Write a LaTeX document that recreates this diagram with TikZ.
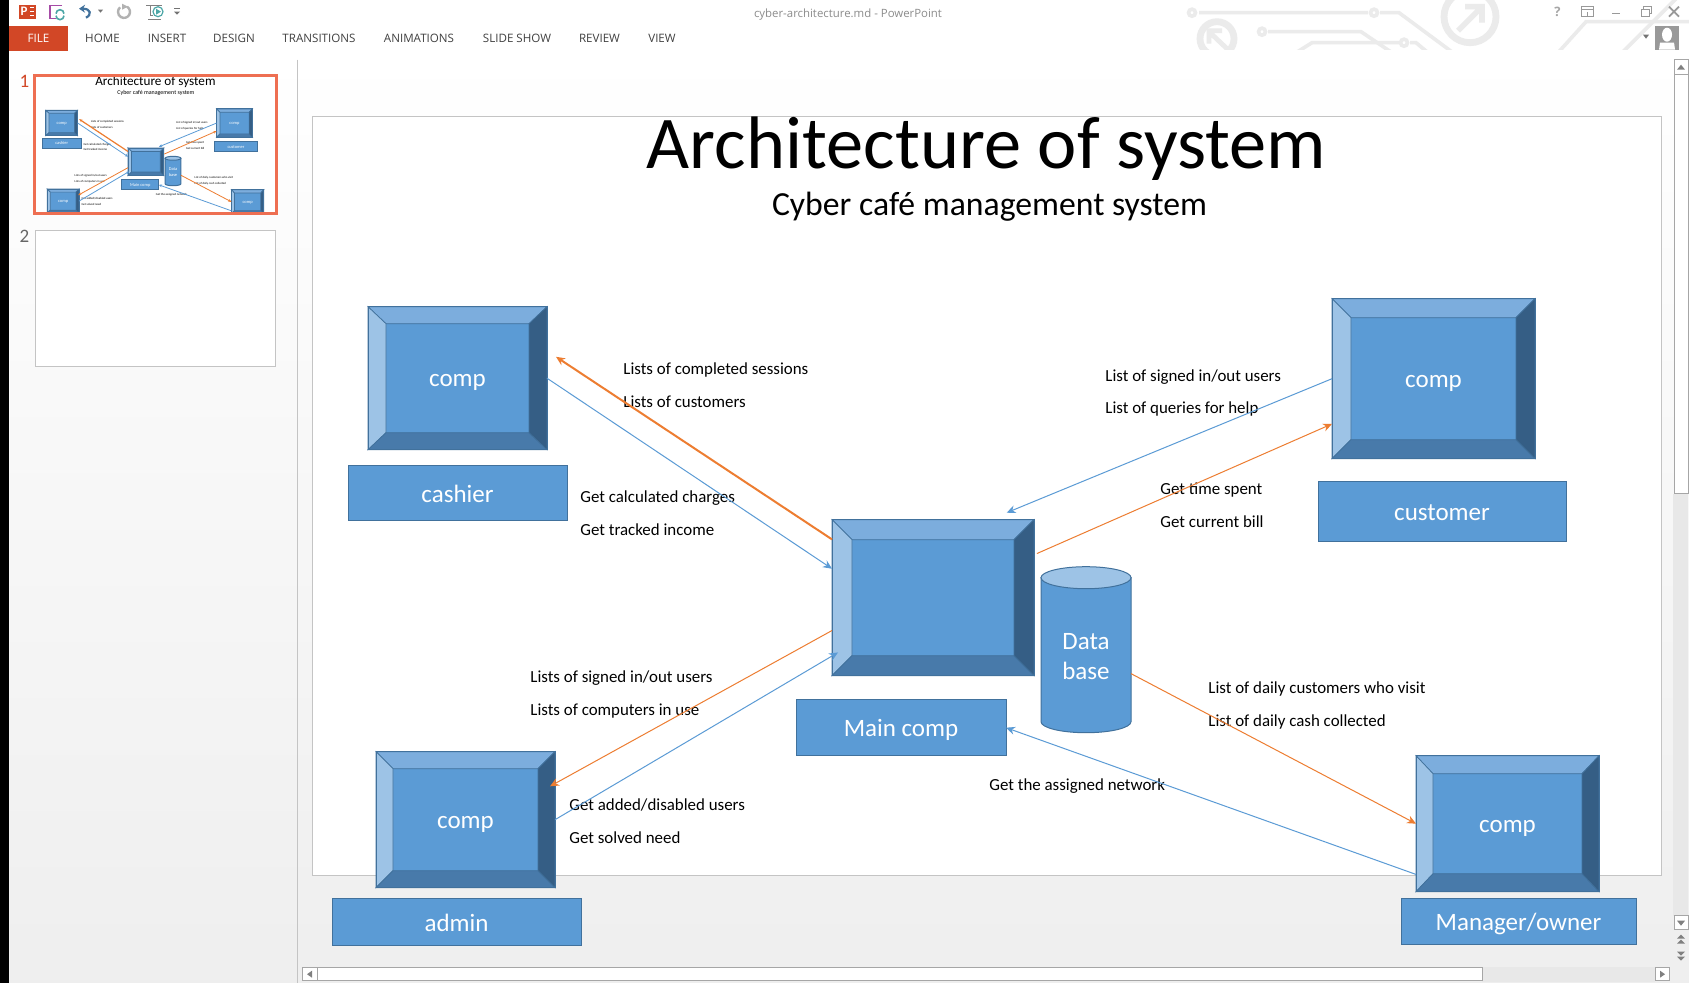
\documentclass[tikz,border=0pt]{standalone}
\usepackage{fontspec}
\setmainfont{Carlito}
\newfontfamily\uifont{Open Sans}
\usetikzlibrary{arrows.meta}
\usetikzlibrary{shapes,positioning}

\definecolor{boxblue}{HTML}{5B9BD5}
\definecolor{boxedge}{HTML}{41719C}
\definecolor{beveltop}{HTML}{7CADDD}
\definecolor{bevelleft}{HTML}{9DC3E6}
\definecolor{bevelbottom}{HTML}{487AAA}
\definecolor{bevelright}{HTML}{355E85}
\definecolor{linkorange}{HTML}{ED7D31}
\definecolor{filered}{HTML}{D24726}
\definecolor{framegrey}{HTML}{C4C4C4}
\definecolor{waterline}{HTML}{EBEBEB}

\tikzset{
    bevelface/.style = {draw=boxedge, line width=.35pt},
    labelbox/.style = {draw=boxedge, fill=boxblue, text=white, line width=.5pt, outer sep=0pt,
        text height=11.6pt, text depth=2.4pt, font=\fontsize{12.5}{15}\selectfont},
    compbox/.style = {inner sep=0pt, outer sep=0pt, text=white, text height=11.1pt, text depth=2.4pt,
        font=\fontsize{12.5}{15}\selectfont},
    msg/.style = {anchor=west, inner sep=0pt, text height=1.5ex, text depth=.25ex,
        font=\fontsize{8.45}{10}\selectfont},
    orangelink/.style = {draw=linkorange, -{Stealth[length=\tipl,width=\tipw]}, line width=\lwthin},
    bluelink/.style = {draw=boxblue, -{Stealth[length=\tipl,width=\tipw]}, line width=\lwthin},
    tabtext/.style = {inner sep=0pt, text=black!75, font=\uifont\fontsize{5.8}{8}\selectfont},
    wiremark/.style = {draw=waterline, line width=1.8pt},
    sbutton/.style = {draw=black!35, fill=white, line width=.5pt},
}

% name, x1, y1, x2, y2, bevel x, bevel y, text
\newcommand{\compnode}[8]{
    \pgfmathsetmacro{\cxx}{(#2+#4)/2}
    \pgfmathsetmacro{\cyy}{(#3+#5)/2}
    \pgfmathsetmacro{\ixa}{#2+#6}
    \pgfmathsetmacro{\ixb}{#4-#6}
    \pgfmathsetmacro{\iya}{#3+#7}
    \pgfmathsetmacro{\iyb}{#5-#7}
    \node[draw=boxedge, fill=boxblue, line width=.5pt, inner sep=0pt, outer sep=0pt,
        minimum width={(#4-#2)*.5pt}, minimum height={(#5-#3)*.5pt}] (#1) at (\cxx, \cyy) {};
    \path[bevelface, fill=beveltop] (#2, #3) -- (#4, #3) -- (\ixb, \iya) -- (\ixa, \iya) -- cycle;
    \path[bevelface, fill=bevelleft] (#2, #3) -- (\ixa, \iya) -- (\ixa, \iyb) -- (#2, #5) -- cycle;
    \path[bevelface, fill=bevelbottom] (#2, #5) -- (\ixa, \iyb) -- (\ixb, \iyb) -- (#4, #5) -- cycle;
    \path[bevelface, fill=bevelright] (#4, #3) -- (\ixb, \iya) -- (\ixb, \iyb) -- (#4, #5) -- cycle;
    \path[draw=boxedge, line width=.5pt] (#2, #3) rectangle (#4, #5);
    \node[compbox] (#1in) at (\cxx, \cyy) {#8};
}

% everything that sits on the slide, drawn twice
\newcommand{\slidebody}{
    \node[inner sep=0pt, font=\fontsize{37.2}{44}\selectfont] (title) at (986.5, 148) {Architecture of system};
    \node[inner sep=0pt, font=\fontsize{16.85}{20}\selectfont] (subtitle) at (989.5, 205.5) {Cyber café management system};

    \compnode{cashier}{368}{306}{547}{449}{18}{17}{comp}
    \compnode{customer}{1332}{298}{1535}{458}{19}{19}{comp}
    \compnode{maincomp}{832}{519}{1034}{675}{20}{20}{}
    \compnode{admin}{376}{751}{555}{887}{17}{17}{comp}
    \compnode{manager}{1416}{755}{1599}{891}{17}{18}{comp}

    \node[labelbox, minimum width=109.5pt, minimum height=27.5pt] (cashiertag) at (457.5, 492.5) {cashier};
    \node[labelbox, minimum width=124pt, minimum height=30pt] (customertag) at (1442, 511) {customer};
    \node[labelbox, minimum width=105pt, minimum height=28pt] (maintag) at (901, 727) {Main comp};
    \node[labelbox, minimum width=124.5pt, minimum height=23.5pt] (admintag) at (456.5, 921.5) {admin};
    \node[labelbox, minimum width=117.5pt, minimum height=23pt] (managertag) at (1518.5, 921) {Manager/owner};

    % data base
    \path[draw=boxedge, fill=boxblue, line width=.5pt] (1041, 577) -- (1041, 721)
        arc[start angle=180, end angle=0, x radius=45, y radius=11] -- (1131, 577) -- cycle;
    \path[draw=boxedge, fill=bevelleft, line width=.5pt] (1086, 577) ellipse [x radius=45, y radius=11];
    \node[inner sep=0pt, outer sep=0pt, minimum width=45pt, minimum height=83pt] (database) at (1086, 649) {};
    \node[inner sep=0pt, align=center, text=white, font=\fontsize{12.5}{15}\selectfont] (databasein) at (1086, 655.5) {Data\\base};

    \node[msg] (completedtxt) at (623, 368) {Lists of completed sessions};
    \node[msg] (customerstxt) at (623, 401) {Lists of customers};
    \node[msg] (chargestxt) at (580, 496) {Get calculated charges};
    \node[msg] (incometxt) at (580, 529) {Get tracked income};
    \node[msg] (signedtxt) at (1105, 375) {List of signed in/out users};
    \node[msg] (queriestxt) at (1105, 407) {List of queries for help};
    \node[msg] (timetxt) at (1160, 488) {Get time spent};
    \node[msg] (billtxt) at (1160, 521) {Get current bill};
    \node[msg] (signedbtxt) at (530, 676) {Lists of signed in/out users};
    \node[msg] (computerstxt) at (530, 709) {Lists of computers in use};
    \node[msg] (addedtxt) at (569, 804) {Get added/disabled users};
    \node[msg] (solvedtxt) at (569, 837) {Get solved need};
    \node[msg] (visittxt) at (1208, 687) {List of daily customers who visit};
    \node[msg] (cashtxt) at (1208, 720) {List of daily cash collected};
    \node[msg] (networktxt) at (989, 784) {Get the assigned network};

    \draw[orangelink, line width=\lwthick, shorten >={5.4pt*\zf}] (maincomp.150.6) -- (cashier.17.1);
    \draw[bluelink] (cashier.east) -- (maincomp.164.5);
    \draw[bluelink, shorten >={9.2pt*\zf}] (customer.west) -- (maincomp.54.3);
    \draw[orangelink, shorten <={1.6pt*\zf}] (maincomp.23.4) -- (customer.204.8);
    \draw[orangelink, shorten >={-2.85pt*\zf}] (maincomp.198.6) -- (admin.22.3);
    \draw[bluelink, shorten >={-3.5pt*\zf}] (admin.east) -- (maincomp.210.1);
    \draw[orangelink] (database.-28.1) -- (manager.west);
    \draw[bluelink] (manager.209.6) -- (maintag.east);
}

\begin{document}
\begin{tikzpicture}[x=.5pt, y=-.5pt]
    \useasboundingbox (0, -.7) rectangle (1689, 982.3);
    \path[top color=white, bottom color=black!6.5] (0, 50) rectangle (1689, 983);
    \fill[white] (0, -1) rectangle (1689, 50);
    \fill[black] (0, -1) rectangle (9, 983);
    \draw[framegrey, line width=.5pt] (297, 59) -- (297, 983);

    % title bar
    \begin{scope}
        \clip (1100, 0) rectangle (1689, 49);
        \path[wiremark] (1199, 12) -- (1368, 12) (1380, 12) -- (1399, 12) -- (1453, 52);
        \path[wiremark] (1192, 12) circle (3.5) (1374, 12) circle (3.5);
        \path[wiremark] (1268, 31) -- (1361, 31) -- (1392, 52);
        \path[wiremark] (1262, 31) circle (3.5);
        \path[wiremark] (1296, 52) -- (1312, 42) -- (1400, 42) (1410, 42) -- (1416, 42) -- (1428, 52);
        \path[wiremark] (1404, 42) circle (3.5);
        \path[wiremark, line width=3.4pt] (1470, 16) circle (26);
        \path[wiremark, line width=3.4pt] (1217, 38) circle (17);
        \path[wiremark, line width=2.8pt] (1458, 30) -- (1481, 7) (1465, 6) -- (1482, 6) -- (1482, 22);
        \path[wiremark, line width=2.4pt] (1227, 48) -- (1209, 31) (1222, 30) -- (1209, 30) -- (1209, 43);
        \path[wiremark] (1558, 52) -- (1586, 21) -- (1689, 21);
        \path[wiremark] (1622, 52) -- (1676, -2);
    \end{scope}
    \node[inner sep=0pt, text=black!45, font=\uifont\fontsize{5.7}{8}\selectfont] (filetitle) at (848, 14) {cyber-architecture.md - PowerPoint};
    \node[inner sep=0pt, text=black!35, font=\uifont\bfseries\fontsize{6.5}{8}\selectfont] (helpmark) at (1557.5, 11) {?};
    \draw[black!40, line width=.5pt] (1581, 6) rectangle (1593, 16) (1581, 9) -- (1593, 9) (1587, 15) -- (1587, 11);
    \draw[black!40, line width=.8pt] (1612, 13) -- (1620, 13);
    \draw[black!40, line width=.5pt] (1641, 9) rectangle (1649, 16) (1643, 9) -- (1643, 6) -- (1651, 6) -- (1651, 13) -- (1649, 13);
    \draw[black!40, line width=.9pt] (1669, 6) -- (1679, 16) (1679, 6) -- (1669, 16);
    \fill[black!55] (1643, 34) -- (1649, 34) -- (1646, 38) -- cycle;
    \fill[black!40] (1655, 25) rectangle (1679, 49);
    \fill[white] (1667, 34) ellipse [x radius=5, y radius=7];
    \fill[white] (1659, 49) -- (1660, 42) -- (1674, 42) -- (1675, 49) -- cycle;

    % quick access icons
    \fill[filered] (19, 4) rectangle (36, 18);
    \node[inner sep=0pt, text=white, font=\bfseries\fontsize{6.5}{8}\selectfont] (pptmark) at (24, 11) {P};
    \draw[white, line width=.5pt] (30, 7) -- (34, 7) (30, 11) -- (34, 11) (30, 15) -- (34, 15);
    \draw[violet!70, line width=.8pt] (62, 5) -- (50, 5) -- (50, 18) -- (56, 18);
    \draw[teal!70, line width=.8pt] (56, 13) arc[start angle=180, end angle=360, radius=4];
    \draw[teal!70, line width=.8pt] (64, 15) arc[start angle=0, end angle=180, radius=4];
    \draw[boxedge, line width=1.1pt, -{Stealth[length=3pt,width=4pt]}] (86, 17) .. controls (92, 14) and (91, 8) .. (79, 8);
    \fill[black!55] (98, 9) -- (103, 9) -- (100.5, 12) -- cycle;
    \draw[black!30, line width=1.2pt] (127, 6) arc[start angle=-60, end angle=230, radius=6];
    \fill[black!30] (122, 3) -- (128, 6) -- (122, 9) -- cycle;
    \draw[black!50, line width=.5pt] (146, 5) -- (162, 5) (150, 5) -- (150, 15) -- (153, 15) (148, 19) -- (161, 19);
    \draw[teal!70, line width=.6pt] (158, 11) circle (5);
    \fill[teal!70] (156, 8) -- (161, 11) -- (156, 14) -- cycle;
    \fill[black!55] (174, 11) -- (180, 11) -- (177, 14) -- cycle;
    \draw[black!55, line width=.4pt] (174, 8) -- (180, 8);

    % ribbon tabs
    \node[fill=filered, text=white, inner sep=0pt, outer sep=0pt, minimum width=29.5pt, minimum height=12.5pt,
        font=\uifont\fontsize{5.8}{8}\selectfont] (filetab) at (38.5, 37.5) {FILE};
    \node[tabtext] (hometab) at (102.5, 38) {HOME};
    \node[tabtext] (inserttab) at (167, 38) {INSERT};
    \node[tabtext] (designtab) at (234, 38) {DESIGN};
    \node[tabtext] (transitionstab) at (319, 38) {TRANSITIONS};
    \node[tabtext] (animationstab) at (419, 38) {ANIMATIONS};
    \node[tabtext] (slideshowtab) at (517, 38) {SLIDE SHOW};
    \node[tabtext] (reviewtab) at (599.5, 38) {REVIEW};
    \node[tabtext] (viewtab) at (662, 38) {VIEW};

    % slide pane
    \node[inner sep=0pt, text=filered, font=\fontsize{9.5}{11}\selectfont] (firstnum) at (24.5, 81) {1};
    \node[inner sep=0pt, text=black!60, font=\fontsize{9.5}{11}\selectfont] (secondnum) at (24.5, 236) {2};
    \fill[white] (35, 75) rectangle (276, 212);
    \begin{scope}[shift={(36, 76)}, scale=.177, transform shape, shift={(-312, -116)}, name prefix=th-]
        \def\zf{.177}
        \def\lwthin{.4pt}
        \def\lwthick{.6pt}
        \def\tipl{1.6pt}
        \def\tipw{1.4pt}
        \clip (312, 116) rectangle (1661, 875);
        \slidebody
    \end{scope}
    \draw[color={rgb,255:red,238;green,111;blue,82}, line width=1.5pt] (34.5, 74.5) rectangle (276.5, 212.5);
    \draw[framegrey, fill=white, line width=.5pt] (35.5, 230) rectangle (275.5, 366);

    % the slide
    \draw[framegrey, fill=white, line width=.5pt] (312, 116) rectangle (1661, 875);
    \begin{scope}
        \def\zf{1}
        \def\lwthin{.5pt}
        \def\lwthick{1pt}
        \def\tipl{4.5pt}
        \def\tipw{4pt}
        \slidebody
    \end{scope}

    % scroll bars
    \fill[black!9] (1673, 493) rectangle (1688, 915);
    \draw[sbutton] (1674, 74) rectangle (1688, 493);
    \draw[sbutton] (1674, 59) rectangle (1688, 74);
    \fill[black!50] (1677, 69) -- (1685, 69) -- (1681, 64) -- cycle;
    \draw[sbutton] (1674, 915) rectangle (1688, 929);
    \fill[black!50] (1677, 920) -- (1685, 920) -- (1681, 925) -- cycle;
    \fill[black!50] (1677, 938) -- (1685, 938) -- (1681, 934) -- cycle (1677, 943) -- (1685, 943) -- (1681, 939) -- cycle;
    \fill[black!50] (1677, 951) -- (1685, 951) -- (1681, 955) -- cycle (1677, 956) -- (1685, 956) -- (1681, 960) -- cycle;
    \fill[black!9] (1482, 966) rectangle (1655, 981);
    \draw[sbutton] (317, 967) rectangle (1482, 980);
    \draw[sbutton] (302, 967) rectangle (317, 980);
    \fill[black!50] (312, 970) -- (312, 977) -- (307, 973.5) -- cycle;
    \draw[sbutton] (1655, 967) rectangle (1669, 980);
    \fill[black!50] (1660, 970) -- (1660, 977) -- (1665, 973.5) -- cycle;
\end{tikzpicture}
\end{document}
